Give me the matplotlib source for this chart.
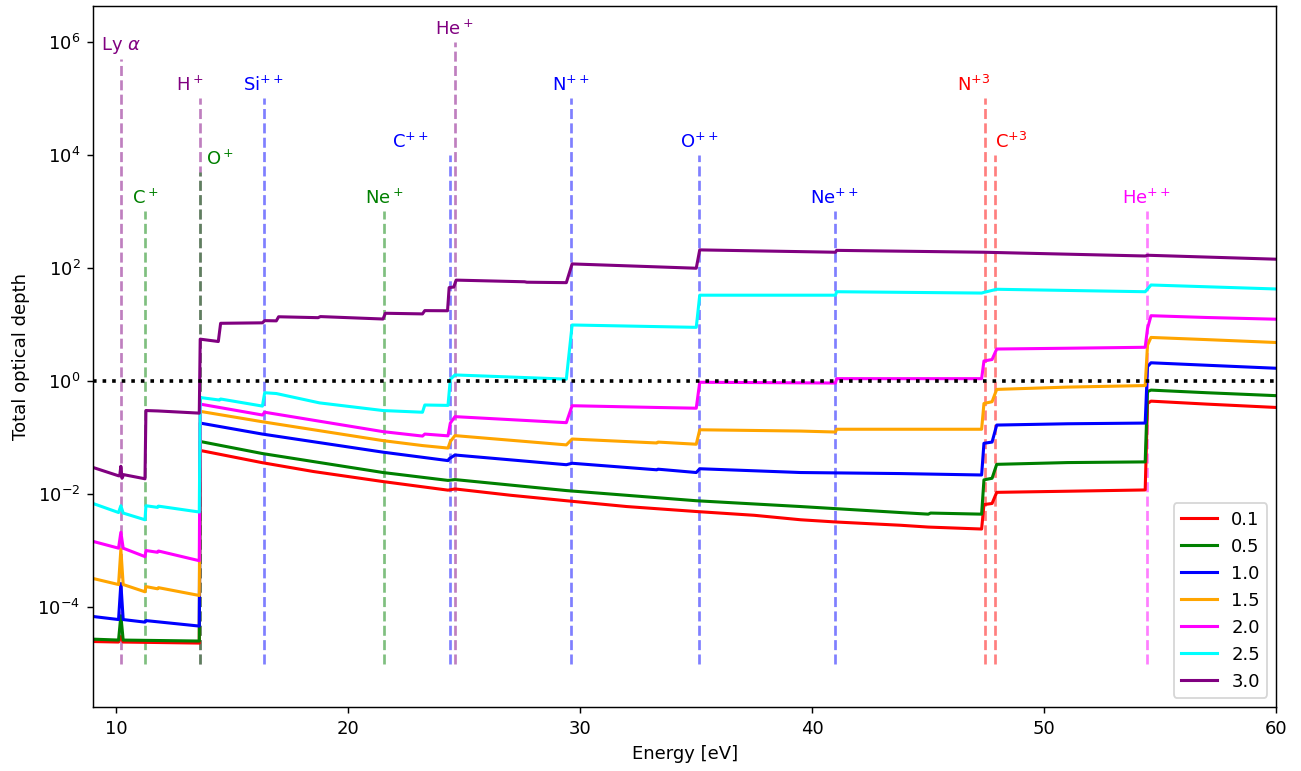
import matplotlib
matplotlib.use("Agg")
from matplotlib import pyplot as plt
from matplotlib.ticker import NullLocator

# optical depth curves (energy in eV, tau)
e_01 = [9.0, 10.1, 10.2, 10.3, 13.58, 13.62, 16.3, 18.5, 21.5, 24.3, 24.6, 27.0, 29.4, 32.0, 35.0,
        37.5, 39.5, 41.0, 43.8, 45.0, 47.3, 47.4, 47.75, 47.95, 51.0, 54.35, 54.45, 54.6, 57.0, 60.0]
tau_01 = [2.45e-5, 2.4e-5, 3.0e-5, 2.4e-5, 2.3e-5, 0.059, 0.0358, 0.025, 0.0166, 0.0117, 0.0123, 0.0095,
          0.0076, 0.006, 0.0049, 0.0042, 0.0035, 0.0032, 0.0028, 0.0026, 0.0024, 0.0065, 0.0068, 0.0107,
          0.0112, 0.0118, 0.40, 0.44, 0.39, 0.34]

e_05 = [9.0, 10.1, 10.2, 10.3, 13.58, 13.62, 16.3, 21.5, 24.3, 24.6, 29.4, 35.0, 39.5, 43.8, 45.0, 45.1,
        47.3, 47.4, 47.75, 47.95, 51.0, 54.35, 54.45, 54.6, 57.0, 60.0]
tau_05 = [2.7e-5, 2.6e-5, 7.0e-5, 2.6e-5, 2.5e-5, 0.085, 0.052, 0.024, 0.0174, 0.018, 0.0115, 0.0076,
          0.006, 0.0047, 0.0044, 0.0046, 0.0044, 0.0178, 0.019, 0.0335, 0.036, 0.037, 0.65, 0.69, 0.62, 0.55]

e_10 = [9.0, 10.1, 10.2, 10.3, 11.24, 11.28, 13.58, 13.62, 16.3, 21.5, 24.3, 24.35, 24.6, 29.4, 29.65,
        33.3, 33.35, 35.0, 35.15, 39.5, 43.8, 47.3, 47.4, 47.75, 47.95, 51.0, 54.35, 54.45, 54.6, 57.0, 60.0]
tau_10 = [6.8e-5, 6.0e-5, 2.6e-4, 6.0e-5, 5.4e-5, 5.75e-5, 4.6e-5, 0.18, 0.115, 0.055, 0.039, 0.042, 0.049,
          0.033, 0.035, 0.0268, 0.0275, 0.024, 0.028, 0.024, 0.023, 0.0217, 0.079, 0.083, 0.166, 0.175,
          0.18, 1.8, 2.1, 1.9, 1.68]

e_15 = [9.0, 10.1, 10.2, 10.3, 11.24, 11.28, 11.78, 11.82, 13.58, 13.62, 16.3, 21.5, 23.2, 24.3, 24.4,
        24.6, 29.4, 29.65, 33.3, 33.35, 35.0, 35.15, 39.5, 41.0, 41.05, 43.8, 47.3, 47.4, 47.75, 47.95,
        51.0, 54.35, 54.45, 54.6, 57.0, 60.0]
tau_15 = [3.2e-4, 2.5e-4, 1.05e-3, 2.5e-4, 1.86e-4, 2.3e-4, 2.1e-4, 2.2e-4, 1.6e-4, 0.29, 0.19, 0.088,
          0.072, 0.065, 0.085, 0.108, 0.074, 0.094, 0.080, 0.083, 0.076, 0.137, 0.13, 0.125, 0.14, 0.14,
          0.14, 0.40, 0.43, 0.71, 0.78, 0.83, 4.3, 5.9, 5.4, 4.8]

e_20 = [9.0, 10.1, 10.2, 10.3, 11.24, 11.28, 11.78, 11.82, 13.58, 13.62, 16.3, 16.4, 21.5, 23.2, 23.3,
        24.3, 24.4, 24.6, 29.4, 29.65, 33.3, 35.0, 35.15, 41.0, 41.05, 47.3, 47.4, 47.75, 47.95, 51.0,
        54.35, 54.45, 54.6, 57.0, 60.0]
tau_20 = [1.45e-3, 1.1e-3, 2.1e-3, 1.1e-3, 7.8e-4, 1.0e-3, 9.3e-4, 9.8e-4, 6.6e-4, 0.39, 0.25, 0.28,
          0.127, 0.106, 0.115, 0.107, 0.18, 0.234, 0.183, 0.365, 0.34, 0.33, 0.95, 0.92, 1.1, 1.1, 2.26,
          2.4, 3.68, 3.8, 3.95, 8.5, 14.3, 13.3, 12.4]

e_25 = [9.0, 10.1, 10.2, 10.3, 11.24, 11.28, 11.78, 11.82, 13.58, 13.62, 14.45, 14.5, 16.3, 16.4, 16.9,
        18.76, 21.5, 23.2, 23.3, 24.3, 24.4, 24.6, 29.4, 29.65, 35.0, 35.15, 41.0, 41.05, 47.3, 47.4,
        47.95, 54.35, 54.6, 60.0]
tau_25 = [6.8e-3, 4.7e-3, 6.2e-3, 4.6e-3, 3.5e-3, 6.2e-3, 5.8e-3, 6.1e-3, 4.8e-3, 0.51, 0.46, 0.48,
          0.36, 0.62, 0.60, 0.41, 0.30, 0.28, 0.376, 0.37, 1.07, 1.28, 1.08, 9.8, 8.9, 33.0, 33.0, 38.0,
          36.0, 37.0, 42.0, 38.0, 50.0, 42.5]

e_30 = [9.0, 10.1, 10.15, 10.2, 10.25, 10.32, 11.24, 11.28, 11.8, 13.58, 13.62, 14.4, 14.5, 16.3, 16.4,
        16.9, 17.0, 18.7, 18.8, 21.5, 21.6, 23.2, 23.3, 24.28, 24.35, 24.55, 24.65, 27.6, 27.7, 29.4,
        29.65, 35.0, 35.15, 41.0, 41.05, 47.4, 54.35, 54.45, 60.0]
tau_30 = [0.0295, 0.021, 0.021, 0.031, 0.019, 0.022, 0.0186, 0.30, 0.295, 0.27, 5.5, 5.0, 10.5, 10.7,
          11.7, 11.6, 13.7, 13.2, 13.8, 12.5, 15.8, 15.4, 17.6, 17.5, 45.0, 46.0, 61.0, 57.0, 56.0, 55.0,
          118.0, 99.0, 209.0, 190.0, 205.0, 190.0, 163.0, 168.0, 143.0]

curves = [(e_01, tau_01, 'red', '0.1'), (e_05, tau_05, 'green', '0.5'), (e_10, tau_10, 'blue', '1.0'),
          (e_15, tau_15, 'orange', '1.5'), (e_20, tau_20, 'magenta', '2.0'), (e_25, tau_25, 'cyan', '2.5'),
          (e_30, tau_30, 'purple', '3.0')]

# ionisation edges / lines
edge_names = ['Ly $\\alpha$', 'C$^+$', 'H$^+$', 'O$^+$', 'Si$^{++}$', 'Ne$^+$', 'C$^{++}$', 'He$^+$',
              'N$^{++}$', 'O$^{++}$', 'Ne$^{++}$', 'N$^{+3}$', 'C$^{+3}$', 'He$^{++}$']
edge_energy = [10.2, 11.26, 13.6, 13.62, 16.35, 21.56, 24.38, 24.59, 29.6, 35.12, 40.96, 47.45, 47.89, 54.42]
edge_top = [5e5, 1e3, 1e5, 5e3, 1e5, 1e3, 1e4, 1e6, 1e5, 1e4, 1e3, 1e5, 1e4, 1e3]
edge_color = ['purple', 'green', 'purple', 'green', 'blue', 'green', 'blue', 'purple',
              'blue', 'blue', 'blue', 'red', 'red', 'magenta']
label_shift = [0, 0, 0.15, 0.25, 0, 0, -0.9, 0, 0, 0, 0, 0.2, 0, 0]
label_ha = ['center', 'center', 'right', 'left', 'center', 'center', 'right', 'center',
            'center', 'center', 'center', 'right', 'left', 'center']

fig = plt.figure(figsize=(1301 / 130, 771 / 130), dpi=130)
ax = fig.add_subplot(111)
fig.subplots_adjust(left=0.0715, right=0.981, top=0.992, bottom=0.083)

for i in range(len(edge_names)):
    ax.vlines(edge_energy[i], 1e-5, edge_top[i], colors=edge_color[i], linestyles='--', lw=1.5, alpha=0.5)
    ax.text(edge_energy[i] + label_shift[i], edge_top[i] * 1.15, edge_names[i], color=edge_color[i],
            ha=label_ha[i], va='bottom')

for e, tau, c, lab in curves:
    ax.plot(e, tau, color=c, lw=1.7, label=lab)

ax.axhline(1.0, color='black', ls=':', lw=2)

ax.set_yscale('log')
ax.set_xlim(9, 60)
ax.set_ylim(1.7e-6, 4.3e6)
ax.set_yticks([1e-4, 1e-2, 1e0, 1e2, 1e4, 1e6])
ax.yaxis.set_minor_locator(NullLocator())
ax.set_xlabel('Energy [eV]')
ax.set_ylabel('Total optical depth')
ax.legend(loc='lower right')

plt.savefig('out.png', dpi=130)
